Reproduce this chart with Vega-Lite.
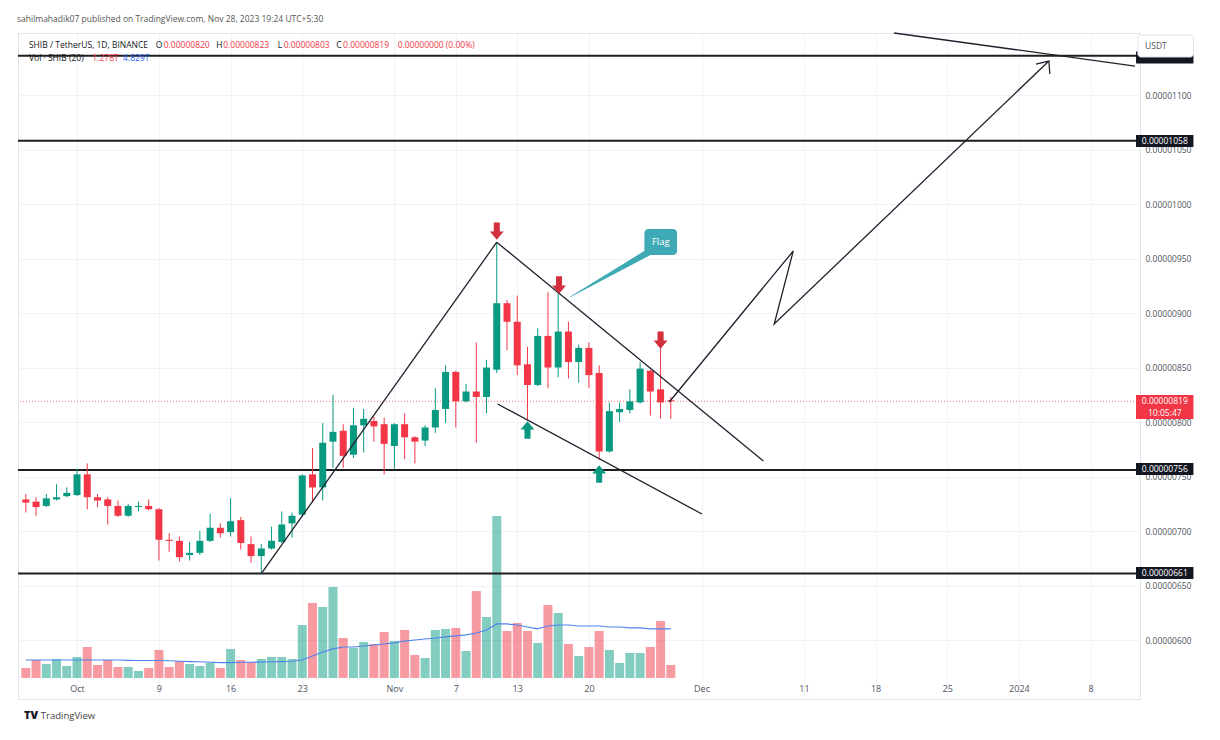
{
  "$schema": "https://vega.github.io/schema/vega-lite/v6.json",
  "width": 1122,
  "height": 666,
  "autosize": "none",
  "padding": {"left": 18, "top": 33, "right": 80, "bottom": 41},
  "background": "#ffffff",
  "config": {
    "view": {"stroke": "#e0e3eb"},
    "font": "Open Sans",
    "axis": {"labelFont": "Open Sans", "labelColor": "#50535e", "domain": false, "ticks": false, "gridColor": "#f0f3fa"}
  },
  "title": {
    "text": "sahilmahadik07 published on TradingView.com, Nov 28, 2023 19:24 UTC+5:30",
    "anchor": "start",
    "offset": 7,
    "fontSize": 8.5,
    "fontWeight": "normal",
    "font": "Open Sans",
    "color": "#555555"
  },
  "datasets": {
    "candles": [
      {"d":"2023-09-26","o":0.00000729,"h":0.00000734,"l":0.00000717,"c":0.00000726,"v":0.99,"ma":1.77},
      {"d":"2023-09-27","o":0.00000727,"h":0.00000731,"l":0.00000714,"c":0.00000722,"v":1.77,"ma":1.77},
      {"d":"2023-09-28","o":0.00000723,"h":0.00000734,"l":0.00000722,"c":0.00000730,"v":1.38,"ma":1.77},
      {"d":"2023-09-29","o":0.00000729,"h":0.00000743,"l":0.00000728,"c":0.00000731,"v":1.87,"ma":1.77},
      {"d":"2023-09-30","o":0.00000732,"h":0.00000740,"l":0.00000731,"c":0.00000735,"v":1.18,"ma":1.77},
      {"d":"2023-10-01","o":0.00000733,"h":0.00000757,"l":0.00000732,"c":0.00000752,"v":2.07,"ma":1.77},
      {"d":"2023-10-02","o":0.00000752,"h":0.00000762,"l":0.00000720,"c":0.00000731,"v":3.05,"ma":1.77},
      {"d":"2023-10-03","o":0.00000731,"h":0.00000734,"l":0.00000722,"c":0.00000728,"v":1.28,"ma":1.77},
      {"d":"2023-10-04","o":0.00000729,"h":0.00000731,"l":0.00000706,"c":0.00000723,"v":1.77,"ma":1.77},
      {"d":"2023-10-05","o":0.00000723,"h":0.00000728,"l":0.00000713,"c":0.00000714,"v":1.08,"ma":1.77},
      {"d":"2023-10-06","o":0.00000714,"h":0.00000725,"l":0.00000713,"c":0.00000723,"v":1.08,"ma":1.74},
      {"d":"2023-10-07","o":0.00000722,"h":0.00000727,"l":0.00000718,"c":0.00000723,"v":0.69,"ma":1.72},
      {"d":"2023-10-08","o":0.00000723,"h":0.00000729,"l":0.00000719,"c":0.00000720,"v":0.99,"ma":1.72},
      {"d":"2023-10-09","o":0.00000720,"h":0.00000721,"l":0.00000673,"c":0.00000692,"v":2.76,"ma":1.72},
      {"d":"2023-10-10","o":0.00000692,"h":0.00000698,"l":0.00000681,"c":0.00000691,"v":1.08,"ma":1.70},
      {"d":"2023-10-11","o":0.00000691,"h":0.00000695,"l":0.00000672,"c":0.00000676,"v":1.67,"ma":1.65},
      {"d":"2023-10-12","o":0.00000678,"h":0.00000690,"l":0.00000673,"c":0.00000680,"v":1.38,"ma":1.62},
      {"d":"2023-10-13","o":0.00000680,"h":0.00000700,"l":0.00000678,"c":0.00000691,"v":1.18,"ma":1.60},
      {"d":"2023-10-14","o":0.00000691,"h":0.00000716,"l":0.00000690,"c":0.00000703,"v":1.48,"ma":1.55},
      {"d":"2023-10-15","o":0.00000703,"h":0.00000707,"l":0.00000694,"c":0.00000698,"v":0.99,"ma":1.52},
      {"d":"2023-10-16","o":0.00000699,"h":0.00000730,"l":0.00000695,"c":0.00000709,"v":2.86,"ma":1.52},
      {"d":"2023-10-17","o":0.00000710,"h":0.00000713,"l":0.00000683,"c":0.00000689,"v":1.77,"ma":1.55},
      {"d":"2023-10-18","o":0.00000688,"h":0.00000695,"l":0.00000671,"c":0.00000677,"v":1.58,"ma":1.55},
      {"d":"2023-10-19","o":0.00000677,"h":0.00000688,"l":0.00000661,"c":0.00000684,"v":1.87,"ma":1.57},
      {"d":"2023-10-20","o":0.00000684,"h":0.00000704,"l":0.00000683,"c":0.00000691,"v":2.07,"ma":1.60},
      {"d":"2023-10-21","o":0.00000690,"h":0.00000718,"l":0.00000689,"c":0.00000706,"v":2.07,"ma":1.62},
      {"d":"2023-10-22","o":0.00000707,"h":0.00000717,"l":0.00000694,"c":0.00000714,"v":1.87,"ma":1.65},
      {"d":"2023-10-23","o":0.00000715,"h":0.00000752,"l":0.00000713,"c":0.00000751,"v":5.22,"ma":1.77},
      {"d":"2023-10-24","o":0.00000752,"h":0.00000776,"l":0.00000726,"c":0.00000740,"v":7.39,"ma":2.17},
      {"d":"2023-10-25","o":0.00000740,"h":0.00000799,"l":0.00000728,"c":0.00000781,"v":6.99,"ma":2.56},
      {"d":"2023-10-26","o":0.00000782,"h":0.00000825,"l":0.00000758,"c":0.00000791,"v":8.96,"ma":2.86},
      {"d":"2023-10-27","o":0.00000792,"h":0.00000798,"l":0.00000758,"c":0.00000769,"v":3.94,"ma":3.05},
      {"d":"2023-10-28","o":0.00000770,"h":0.00000813,"l":0.00000767,"c":0.00000797,"v":2.96,"ma":3.05},
      {"d":"2023-10-29","o":0.00000797,"h":0.00000812,"l":0.00000772,"c":0.00000803,"v":3.55,"ma":3.15},
      {"d":"2023-10-30","o":0.00000801,"h":0.00000805,"l":0.00000782,"c":0.00000796,"v":3.35,"ma":3.25},
      {"d":"2023-10-31","o":0.00000798,"h":0.00000804,"l":0.00000752,"c":0.00000780,"v":4.53,"ma":3.35},
      {"d":"2023-11-01","o":0.00000778,"h":0.00000799,"l":0.00000757,"c":0.00000798,"v":3.64,"ma":3.45},
      {"d":"2023-11-02","o":0.00000798,"h":0.00000808,"l":0.00000766,"c":0.00000786,"v":4.73,"ma":3.64},
      {"d":"2023-11-03","o":0.00000786,"h":0.00000787,"l":0.00000762,"c":0.00000782,"v":2.27,"ma":3.74},
      {"d":"2023-11-04","o":0.00000783,"h":0.00000797,"l":0.00000778,"c":0.00000795,"v":1.97,"ma":3.84},
      {"d":"2023-11-05","o":0.00000795,"h":0.00000831,"l":0.00000790,"c":0.00000811,"v":4.73,"ma":3.94},
      {"d":"2023-11-06","o":0.00000812,"h":0.00000852,"l":0.00000799,"c":0.00000846,"v":4.83,"ma":4.04},
      {"d":"2023-11-07","o":0.00000846,"h":0.00000847,"l":0.00000795,"c":0.00000819,"v":4.93,"ma":4.14},
      {"d":"2023-11-08","o":0.00000819,"h":0.00000835,"l":0.00000818,"c":0.00000828,"v":2.66,"ma":4.24},
      {"d":"2023-11-09","o":0.00000828,"h":0.00000873,"l":0.00000781,"c":0.00000823,"v":8.57,"ma":4.43},
      {"d":"2023-11-10","o":0.00000823,"h":0.00000857,"l":0.00000808,"c":0.00000850,"v":6.01,"ma":4.73},
      {"d":"2023-11-11","o":0.00000848,"h":0.00000965,"l":0.00000845,"c":0.00000909,"v":15.96,"ma":5.32},
      {"d":"2023-11-12","o":0.00000909,"h":0.00000912,"l":0.00000866,"c":0.00000892,"v":4.63,"ma":5.32},
      {"d":"2023-11-13","o":0.00000892,"h":0.00000916,"l":0.00000843,"c":0.00000852,"v":5.42,"ma":5.22},
      {"d":"2023-11-14","o":0.00000853,"h":0.00000869,"l":0.00000802,"c":0.00000834,"v":4.63,"ma":5.02},
      {"d":"2023-11-15","o":0.00000834,"h":0.00000886,"l":0.00000833,"c":0.00000879,"v":3.45,"ma":4.83},
      {"d":"2023-11-16","o":0.00000879,"h":0.00000919,"l":0.00000831,"c":0.00000850,"v":7.19,"ma":5.12},
      {"d":"2023-11-17","o":0.00000850,"h":0.00000928,"l":0.00000841,"c":0.00000883,"v":6.40,"ma":5.22},
      {"d":"2023-11-18","o":0.00000883,"h":0.00000892,"l":0.00000840,"c":0.00000855,"v":3.35,"ma":5.22},
      {"d":"2023-11-19","o":0.00000855,"h":0.00000871,"l":0.00000836,"c":0.00000868,"v":2.17,"ma":5.12},
      {"d":"2023-11-20","o":0.00000868,"h":0.00000873,"l":0.00000831,"c":0.00000843,"v":3.05,"ma":5.12},
      {"d":"2023-11-21","o":0.00000845,"h":0.00000852,"l":0.00000765,"c":0.00000773,"v":4.63,"ma":5.12},
      {"d":"2023-11-22","o":0.00000773,"h":0.00000818,"l":0.00000772,"c":0.00000810,"v":2.76,"ma":5.02},
      {"d":"2023-11-23","o":0.00000809,"h":0.00000818,"l":0.00000800,"c":0.00000812,"v":1.48,"ma":5.02},
      {"d":"2023-11-24","o":0.00000811,"h":0.00000830,"l":0.00000808,"c":0.00000819,"v":2.46,"ma":4.93},
      {"d":"2023-11-25","o":0.00000818,"h":0.00000855,"l":0.00000817,"c":0.00000849,"v":2.46,"ma":4.93},
      {"d":"2023-11-26","o":0.00000847,"h":0.00000848,"l":0.00000806,"c":0.00000828,"v":3.05,"ma":4.83},
      {"d":"2023-11-27","o":0.00000830,"h":0.00000868,"l":0.00000803,"c":0.00000818,"v":5.61,"ma":4.83},
      {"d":"2023-11-28","o":0.00000820,"h":0.00000823,"l":0.00000803,"c":0.00000819,"v":1.28,"ma":4.83}
    ],
    "levels": [{"p":0.00001136},{"p":0.00001058},{"p":0.00000756},{"p":0.00000661}],
    "lines": [
      {"seg":"A","ord":0,"t":"2023-10-19T00:00:00Z","p":0.00000661},
      {"seg":"A","ord":1,"t":"2023-11-11T00:00:00Z","p":0.00000965},
      {"seg":"B","ord":0,"t":"2023-11-11T00:00:00Z","p":0.00000965},
      {"seg":"B","ord":1,"t":"2023-12-07T01:00:00Z","p":0.000007642},
      {"seg":"C","ord":0,"t":"2023-11-11T02:10:00Z","p":0.000008165},
      {"seg":"C","ord":1,"t":"2023-12-01T01:00:00Z","p":0.000007156},
      {"seg":"D","ord":0,"t":"2023-11-27T20:24:00Z","p":0.000008184},
      {"seg":"D","ord":1,"t":"2023-12-09T23:00:00Z","p":0.000009569},
      {"seg":"D","ord":2,"t":"2023-12-08T02:24:00Z","p":0.000008899},
      {"seg":"D","ord":3,"t":"2024-01-03T22:19:00Z","p":0.000011312},
      {"seg":"E","ord":0,"t":"2024-01-02T16:05:00Z","p":0.000011284},
      {"seg":"E","ord":1,"t":"2024-01-03T22:19:00Z","p":0.000011312},
      {"seg":"E","ord":2,"t":"2024-01-04T00:29:00Z","p":0.000011193},
      {"seg":"F","ord":0,"t":"2023-12-19T19:26:00Z","p":0.000011569},
      {"seg":"F","ord":1,"t":"2024-01-12T08:10:00Z","p":0.000011266}
    ],
    "signals": [
      {"k":"sell","t":"2023-11-11T00:00:00Z","p":0.000009752},
      {"k":"sell","t":"2023-11-17T02:00:00Z","p":0.000009257},
      {"k":"sell","t":"2023-11-27T00:00:00Z","p":0.000008752},
      {"k":"buy","t":"2023-11-14T00:00:00Z","p":0.000007927},
      {"k":"buy","t":"2023-11-21T00:00:00Z","p":0.000007523}
    ],
    "tail": [
      {"ord":0,"t":"2023-11-18T03:50:00Z","p":0.000009147},
      {"ord":1,"t":"2023-11-26T04:50:00Z","p":0.000009578}
    ],
    "tags": [
      {"k":"black","p1":0.00001140,"p2":0.00001129},
      {"k":"black","p1":0.000010633,"p2":0.000010523},
      {"k":"black","p1":0.000007624,"p2":0.000007514},
      {"k":"black","p1":0.000006670,"p2":0.000006560},
      {"k":"red","p1":0.000008248,"p2":0.000008028}
    ],
    "tagtext": [
      {"txt":"0.00001058","p":0.00001058},
      {"txt":"0.00000756","p":0.000007565},
      {"txt":"0.00000661","p":0.000006615},
      {"txt":"0.00000819","p":0.000008193},
      {"txt":"10:05:47","p":0.000008083}
    ],
    "header": [
      {"k":"label","t":"2023-09-26T07:19:00Z","p":0.000011459,"txt":"SHIB / TetherUS, 1D, BINANCE"},
      {"k":"label","t":"2023-10-08T16:42:00Z","p":0.000011459,"txt":"O"},
      {"k":"value","t":"2023-10-09T11:17:00Z","p":0.000011459,"txt":"0.00000820"},
      {"k":"label","t":"2023-10-14T14:25:00Z","p":0.000011459,"txt":"H"},
      {"k":"value","t":"2023-10-15T06:42:00Z","p":0.000011459,"txt":"0.00000823"},
      {"k":"label","t":"2023-10-20T14:28:00Z","p":0.000011459,"txt":"L"},
      {"k":"value","t":"2023-10-21T04:25:00Z","p":0.000011459,"txt":"0.00000803"},
      {"k":"label","t":"2023-10-26T07:34:00Z","p":0.000011459,"txt":"C"},
      {"k":"value","t":"2023-10-26T23:48:00Z","p":0.000011459,"txt":"0.00000819"},
      {"k":"value","t":"2023-11-01T07:36:00Z","p":0.000011459,"txt":"0.00000000 (0.00%)"},
      {"k":"label","t":"2023-09-26T07:19:00Z","p":0.000011339,"txt":"Vol · SHIB (20)"},
      {"k":"value","t":"2023-10-02T12:00:00Z","p":0.000011339,"txt":"1.278T"},
      {"k":"ma","t":"2023-10-05T12:00:00Z","p":0.000011339,"txt":"4.829T"}
    ]
  },
  "resolve": {"scale": {"y": "independent"}, "axis": {"y": "independent"}},
  "layer": [
    {
      "data": {"name": "candles"},
      "mark": {"type": "bar", "size": 9, "opacity": 0.5},
      "encoding": {
        "x": {
          "field": "d", "type": "temporal", "title": null,
          "scale": {"type": "utc", "domain": [1695662553600, 1705046976000]},
          "axis": {
            "title": null, "grid": true, "offset": -18, "labelFontSize": 9, "labelPadding": 3, "labelOverlap": false,
            "values": [1696118400000, 1696809600000, 1697414400000, 1698019200000, 1698796800000, 1699315200000, 1699833600000, 1700438400000, 1701388800000, 1702252800000, 1702857600000, 1703462400000, 1704067200000, 1704672000000],
            "labelExpr": "utcdate(datum.value) == 1 ? (utcmonth(datum.value) == 0 ? utcFormat(datum.value, '%Y') : utcFormat(datum.value, '%b')) : utcFormat(datum.value, '%-d')"
          }
        },
        "y": {"field": "v", "type": "quantitative", "scale": {"domain": [-2.07, 63.53], "zero": false, "nice": false}, "axis": null},
        "y2": {"datum": 0},
        "color": {"condition": {"test": "datum.c >= datum.o", "value": "#089981"}, "value": "#f23645"}
      }
    },
    {
      "data": {"name": "candles"},
      "mark": {"type": "line", "color": "#4f83ee", "strokeWidth": 1.2},
      "encoding": {
        "x": {"field": "d", "type": "temporal", "title": null},
        "y": {"field": "ma", "type": "quantitative", "scale": {"domain": [-2.07, 63.53], "zero": false, "nice": false}, "axis": null}
      }
    },
    {
      "data": {"name": "levels"},
      "mark": {"type": "rule", "color": "#1e1e1e", "strokeWidth": 2},
      "encoding": {
        "y": {
          "field": "p", "type": "quantitative",
          "scale": {"domain": [0.000005459, 0.000011569], "zero": false, "nice": false},
          "axis": {
            "orient": "right", "title": null, "grid": true, "format": ".8f", "labelFontSize": 8.5, "labelPadding": 5, "labelOverlap": false,
            "values": [0.000006, 0.0000065, 0.000007, 0.0000075, 0.000008, 0.0000085, 0.000009, 0.0000095, 0.00001, 0.0000105, 0.000011]
          }
        }
      }
    },
    {
      "data": {"values": [{"p": 0.00000819}]},
      "mark": {"type": "rule", "color": "#f23645", "strokeWidth": 1, "strokeDash": [1, 2], "opacity": 0.7},
      "encoding": {"y": {"field": "p", "type": "quantitative", "scale": {"domain": [0.000005459, 0.000011569], "zero": false, "nice": false}, "axis": null}}
    },
    {
      "data": {"name": "candles"},
      "mark": {"type": "rule", "strokeWidth": 1},
      "encoding": {
        "x": {"field": "d", "type": "temporal", "title": null},
        "y": {"field": "l", "type": "quantitative", "scale": {"domain": [0.000005459, 0.000011569], "zero": false, "nice": false}, "axis": null},
        "y2": {"field": "h"},
        "color": {"condition": {"test": "datum.c >= datum.o", "value": "#089981"}, "value": "#f23645"}
      }
    },
    {
      "data": {"name": "candles"},
      "mark": {"type": "bar", "size": 7},
      "encoding": {
        "x": {"field": "d", "type": "temporal", "title": null},
        "y": {"field": "o", "type": "quantitative", "scale": {"domain": [0.000005459, 0.000011569], "zero": false, "nice": false}, "axis": null},
        "y2": {"field": "c"},
        "color": {"condition": {"test": "datum.c >= datum.o", "value": "#089981"}, "value": "#f23645"}
      }
    },
    {
      "data": {"name": "lines"},
      "mark": {"type": "line", "color": "#1e222d", "strokeWidth": 1.3},
      "encoding": {
        "x": {"field": "t", "type": "temporal", "title": null},
        "y": {"field": "p", "type": "quantitative", "scale": {"domain": [0.000005459, 0.000011569], "zero": false, "nice": false}, "axis": null},
        "detail": {"field": "seg"},
        "order": {"field": "ord"}
      }
    },
    {
      "data": {"name": "signals"},
      "mark": {"type": "point", "filled": true, "size": 300, "opacity": 1, "strokeWidth": 0},
      "encoding": {
        "x": {"field": "t", "type": "temporal", "title": null},
        "y": {"field": "p", "type": "quantitative", "scale": {"domain": [0.000005459, 0.000011569], "zero": false, "nice": false}, "axis": null},
        "shape": {"condition": {"test": "datum.k == 'sell'", "value": "M-0.35,-1L0.35,-1L0.35,0.05L0.8,0.05L0,1L-0.8,0.05L-0.35,0.05Z"}, "value": "M-0.35,1L0.35,1L0.35,-0.05L0.8,-0.05L0,-1L-0.8,-0.05L-0.35,-0.05Z"},
        "color": {"condition": {"test": "datum.k == 'sell'", "value": "#d32f3d"}, "value": "#0a9980"}
      }
    },
    {
      "data": {"name": "tail"},
      "mark": {"type": "trail", "color": "#3fa9b5"},
      "encoding": {
        "x": {"field": "t", "type": "temporal", "title": null},
        "y": {"field": "p", "type": "quantitative", "scale": {"domain": [0.000005459, 0.000011569], "zero": false, "nice": false}, "axis": null},
        "order": {"field": "ord"},
        "size": {"field": "ord", "type": "quantitative", "scale": {"domain": [0, 1], "range": [0.5, 7]}, "legend": null}
      }
    },
    {
      "data": {"values": [{"t1": "2023-11-25T10:05:00Z", "t2": "2023-11-28T14:40:00Z", "p1": 0.000009532, "p2": 0.000009771}]},
      "mark": {"type": "rect", "color": "#3fa9b5", "cornerRadius": 4},
      "encoding": {
        "x": {"field": "t1", "type": "temporal", "title": null},
        "x2": {"field": "t2"},
        "y": {"field": "p1", "type": "quantitative", "scale": {"domain": [0.000005459, 0.000011569], "zero": false, "nice": false}, "axis": null},
        "y2": {"field": "p2"}
      }
    },
    {
      "data": {"values": [{"t": "2023-11-27T00:30:00Z", "p": 0.000009651, "txt": "Flag"}]},
      "mark": {"type": "text", "color": "#ffffff", "fontSize": 9.5, "align": "center", "baseline": "middle"},
      "encoding": {
        "x": {"field": "t", "type": "temporal", "title": null},
        "y": {"field": "p", "type": "quantitative", "scale": {"domain": [0.000005459, 0.000011569], "zero": false, "nice": false}, "axis": null},
        "text": {"field": "txt"}
      }
    },
    {
      "data": {"name": "tags"},
      "mark": {"type": "rect"},
      "encoding": {
        "x": {"datum": {"year": 2024, "month": 1, "date": 12, "hours": 10, "minutes": 34, "utc": true}, "type": "temporal", "title": null},
        "x2": {"datum": {"year": 2024, "month": 1, "date": 18, "hours": 1, "minutes": 12, "utc": true}},
        "y": {"field": "p1", "type": "quantitative", "scale": {"domain": [0.000005459, 0.000011569], "zero": false, "nice": false}, "axis": null},
        "y2": {"field": "p2"},
        "color": {"condition": {"test": "datum.k == 'red'", "value": "#f23645"}, "value": "#131722"}
      }
    },
    {
      "data": {"values": [{"p1": 0.00001155, "p2": 0.000011349}]},
      "mark": {"type": "rect", "fill": "#ffffff", "stroke": "#e0e3eb", "strokeWidth": 1, "cornerRadius": 3},
      "encoding": {
        "x": {"datum": {"year": 2024, "month": 1, "date": 12, "hours": 15, "minutes": 0, "utc": true}, "type": "temporal", "title": null},
        "x2": {"datum": {"year": 2024, "month": 1, "date": 18, "hours": 1, "minutes": 12, "utc": true}},
        "y": {"field": "p1", "type": "quantitative", "scale": {"domain": [0.000005459, 0.000011569], "zero": false, "nice": false}, "axis": null},
        "y2": {"field": "p2"}
      }
    },
    {
      "data": {"values": [{"txt": "USDT", "p": 0.000011449}]},
      "mark": {"type": "text", "color": "#50535e", "fontSize": 8.5, "align": "center", "baseline": "middle"},
      "encoding": {
        "x": {"datum": {"year": 2024, "month": 1, "date": 14, "hours": 9, "minutes": 7, "utc": true}, "type": "temporal", "title": null},
        "y": {"field": "p", "type": "quantitative", "scale": {"domain": [0.000005459, 0.000011569], "zero": false, "nice": false}, "axis": null},
        "text": {"field": "txt"}
      }
    },
    {
      "data": {"name": "tagtext"},
      "mark": {"type": "text", "color": "#ffffff", "fontSize": 8.5, "align": "center", "baseline": "middle"},
      "encoding": {
        "x": {"datum": {"year": 2024, "month": 1, "date": 15, "hours": 6, "utc": true}, "type": "temporal", "title": null},
        "y": {"field": "p", "type": "quantitative", "scale": {"domain": [0.000005459, 0.000011569], "zero": false, "nice": false}, "axis": null},
        "text": {"field": "txt"}
      }
    },
    {
      "data": {"name": "header"},
      "mark": {"type": "text", "fontSize": 8.5, "align": "left", "baseline": "middle"},
      "encoding": {
        "x": {"field": "t", "type": "temporal", "title": null},
        "y": {"field": "p", "type": "quantitative", "scale": {"domain": [0.000005459, 0.000011569], "zero": false, "nice": false}, "axis": null},
        "text": {"field": "txt"},
        "color": {"condition": [{"test": "datum.k == 'value'", "value": "#f23645"}, {"test": "datum.k == 'ma'", "value": "#2962ff"}], "value": "#131722"}
      }
    },
    {
      "data": {"values": [{"t": "2023-09-25T19:41:00Z", "p": 0.000005303, "txt": "TV"}]},
      "mark": {"type": "text", "fontSize": 11, "fontWeight": 900, "color": "#131722", "align": "left", "baseline": "middle"},
      "encoding": {
        "x": {"field": "t", "type": "temporal", "title": null},
        "y": {"field": "p", "type": "quantitative", "scale": {"domain": [0.000005459, 0.000011569], "zero": false, "nice": false}, "axis": null},
        "text": {"field": "txt"}
      }
    },
    {
      "data": {"values": [{"t": "2023-09-27T11:12:00Z", "p": 0.000005303, "txt": "TradingView"}]},
      "mark": {"type": "text", "fontSize": 9.5, "color": "#444444", "align": "left", "baseline": "middle"},
      "encoding": {
        "x": {"field": "t", "type": "temporal", "title": null},
        "y": {"field": "p", "type": "quantitative", "scale": {"domain": [0.000005459, 0.000011569], "zero": false, "nice": false}, "axis": null},
        "text": {"field": "txt"}
      }
    }
  ]
}
